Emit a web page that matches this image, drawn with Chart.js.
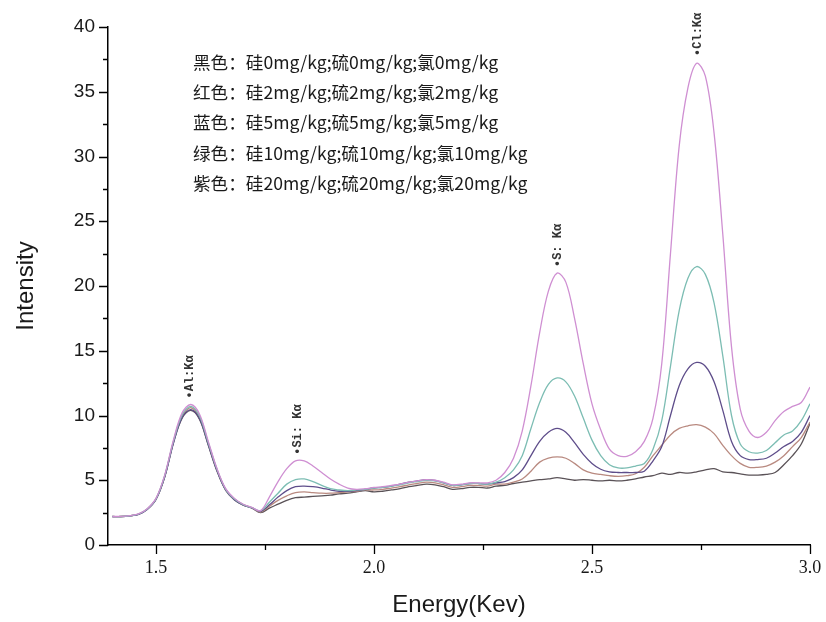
<!DOCTYPE html>
<html>
<head>
<meta charset="utf-8">
<script src="https://cdn.jsdelivr.net/npm/chart.js@4"></script>
<style>
	html, body { margin: 0; padding: 0; background: #fff; }
</style>
</head>
<body>
<canvas id="Chart1" width="826" height="622"></canvas>
<script>
// energy axis (keV)
const energy = [
	1.40, 1.42, 1.44, 1.46, 1.48, 1.50, 1.52, 1.54, 1.56, 1.58, 1.60, 1.62, 1.64, 1.66, 1.68, 1.70, 1.72,
	1.74, 1.76, 1.78, 1.80, 1.82, 1.84, 1.86, 1.88, 1.90, 1.92, 1.94, 1.96, 1.98,
	2.00, 2.02, 2.04, 2.06, 2.08, 2.10, 2.12, 2.14, 2.16, 2.18, 2.20, 2.22, 2.24, 2.26, 2.28,
	2.30, 2.32, 2.34, 2.36, 2.38, 2.40, 2.42, 2.44, 2.46, 2.48, 2.50, 2.52, 2.54, 2.56, 2.58,
	2.60, 2.62, 2.64, 2.66, 2.68, 2.70, 2.72, 2.74, 2.76, 2.78, 2.80, 2.82, 2.84, 2.86, 2.88, 2.90, 2.92, 2.94, 2.96, 2.98, 3.00
];

// intensity per sample (Si/S/Cl mg/kg)
const purple20 = [
	2.20, 2.21, 2.27, 2.40, 2.80, 3.60, 5.4, 8.1, 10.2, 10.85, 10.1, 8.0, 5.9, 4.35, 3.6, 3.15, 2.9,
	2.65, 3.7, 4.9, 5.9, 6.5, 6.5, 6.1, 5.6, 5.1, 4.7, 4.4, 4.3, 4.35,
	4.45, 4.5, 4.6, 4.7, 4.85, 4.95, 5.05, 5.0, 4.85, 4.65, 4.7, 4.8, 4.8, 4.8, 5.0,
	5.6, 6.7, 8.8, 12.3, 16.4, 19.6, 21.0, 20.3, 17.5, 14.0, 10.9, 8.9, 7.4, 6.9, 6.85,
	7.2, 8.0, 9.8, 14.0, 22.5, 30.8, 35.3, 37.2, 36.2, 31.8, 24.0, 15.3, 10.5, 8.8, 8.3, 8.7, 9.6, 10.3, 10.7, 11.0, 12.2
];
const green10 = [
	2.20, 2.20, 2.26, 2.39, 2.78, 3.56, 5.35, 8.0, 10.05, 10.7, 9.95, 7.9, 5.85, 4.3, 3.55, 3.12, 2.88,
	2.65, 3.3, 4.0, 4.7, 5.05, 5.1, 4.9, 4.6, 4.35, 4.25, 4.2, 4.25, 4.3,
	4.4, 4.45, 4.55, 4.65, 4.8, 4.9, 5.0, 4.95, 4.8, 4.6, 4.65, 4.75, 4.75, 4.7, 4.85,
	5.2, 5.8, 6.9, 9.0, 11.0, 12.4, 12.9, 12.6, 11.5, 9.8, 8.1, 6.9, 6.2, 5.95, 5.95,
	6.1, 6.3, 7.4, 9.6, 13.8, 18.1, 20.6, 21.5, 20.9, 18.7, 14.6, 10.0, 7.8, 7.2, 7.1, 7.3, 7.9, 8.5, 8.8, 9.6, 10.9
];
const blue5 = [
	2.19, 2.19, 2.25, 2.37, 2.75, 3.52, 5.25, 7.85, 9.85, 10.45, 9.75, 7.75, 5.75, 4.25, 3.5, 3.1, 2.86,
	2.6, 3.1, 3.7, 4.2, 4.5, 4.55, 4.5, 4.4, 4.25, 4.15, 4.15, 4.2, 4.3,
	4.4, 4.45, 4.55, 4.7, 4.85, 4.95, 5.05, 4.98, 4.8, 4.6, 4.65, 4.75, 4.75, 4.7, 4.8,
	4.9, 5.2, 5.8, 6.9, 8.0, 8.7, 9.0, 8.7, 7.9, 7.0, 6.3, 5.85, 5.65, 5.6, 5.6,
	5.6, 5.7, 6.5, 7.6, 10.0, 12.3, 13.6, 14.1, 13.8, 12.6, 10.4, 8.0, 6.9, 6.6, 6.6, 6.7, 7.1, 7.6, 8.0, 8.7, 10.0
];
const red2 = [
	2.20, 2.20, 2.26, 2.38, 2.77, 3.55, 5.3, 7.95, 9.95, 10.6, 9.85, 7.85, 5.8, 4.3, 3.55, 3.12, 2.87,
	2.55, 3.0, 3.45, 3.8, 4.05, 4.1, 4.05, 4.0, 4.0, 4.05, 4.1, 4.15, 4.25,
	4.25, 4.3, 4.4, 4.5, 4.65, 4.75, 4.85, 4.8, 4.65, 4.45, 4.5, 4.6, 4.6, 4.55, 4.7,
	4.7, 4.85, 5.1, 5.7, 6.4, 6.7, 6.8, 6.7, 6.3, 5.8, 5.55, 5.45, 5.35, 5.3, 5.35,
	5.5, 6.0, 6.9, 7.7, 8.5, 9.0, 9.2, 9.3, 9.1, 8.6, 7.7, 6.9, 6.3, 6.0, 6.0, 6.1, 6.4, 6.9, 7.6, 8.3, 9.5
];
const black0 = [
	2.20, 2.20, 2.25, 2.37, 2.76, 3.52, 5.25, 7.9, 9.8, 10.4, 9.7, 7.7, 5.7, 4.22, 3.48, 3.08, 2.85,
	2.5, 2.85, 3.15, 3.45, 3.65, 3.7, 3.75, 3.8, 3.85, 3.95, 4.0, 4.1, 4.2,
	4.1, 4.15, 4.25, 4.35, 4.5, 4.6, 4.7, 4.65, 4.5, 4.3, 4.35, 4.45, 4.45, 4.4, 4.55,
	4.6, 4.75, 4.85, 4.95, 5.05, 5.1, 5.2, 5.1, 5.0, 5.05, 5.0, 4.95, 5.0, 4.95, 5.0,
	5.1, 5.25, 5.35, 5.55, 5.45, 5.6, 5.55, 5.65, 5.8, 5.9, 5.65, 5.6, 5.5, 5.4, 5.4, 5.45, 5.6, 6.2, 6.9, 7.8, 9.4
];

const xTickLabels = [1.5, 2.0, 2.5, 3.0];

const legendLines = [
	'黑色：硅0mg/kg;硫0mg/kg;氯0mg/kg',
	'红色：硅2mg/kg;硫2mg/kg;氯2mg/kg',
	'蓝色：硅5mg/kg;硫5mg/kg;氯5mg/kg',
	'绿色：硅10mg/kg;硫10mg/kg;氯10mg/kg',
	'紫色：硅20mg/kg;硫20mg/kg;氯20mg/kg'
];

// peak markers
const peakLabels = ['•Al:Kα', '•Si: Kα', '•S: Kα', '•Cl:Kα'];
const peakEnergy = [1.578, 1.825, 2.421, 2.742];
const peakHeight = [10.85, 6.5, 21.0, 37.3];

const toPoints = arr => arr.map((v, i) => ({ x: energy[i], y: v }));

// tick marks + text overlays
const overlay = {
	id: 'overlay',
	afterDraw(chart) {
		const ctx = chart.ctx;
		const x = chart.scales.x;
		const y = chart.scales.y;
		ctx.save();
		ctx.strokeStyle = '#000';
		ctx.lineWidth = 1.3;
		ctx.beginPath();
		for (let v = 0; v <= 40; v += 2.5) {
			const py = Math.round(y.getPixelForValue(v)) + 0.5;
			const len = v % 5 === 0 ? 9 : 5;
			ctx.moveTo(x.left - len, py);
			ctx.lineTo(x.left, py);
		}
		for (let v = 1.5; v <= 3.0001; v += 0.25) {
			const px = Math.round(x.getPixelForValue(v)) + 0.5;
			const len = Math.abs(v * 2 - Math.round(v * 2)) < 0.01 ? 9 : 5;
			ctx.moveTo(px, y.bottom);
			ctx.lineTo(px, y.bottom + len);
		}
		ctx.stroke();

		ctx.fillStyle = '#1a1a1a';
		ctx.textBaseline = 'middle';
		ctx.font = '17.6px "Noto Sans CJK SC"';
		legendLines.forEach((t, i) => ctx.fillText(t, 193, 62 + i * 30.4));

		ctx.font = 'bold 12px "Liberation Mono"';
		ctx.fillStyle = '#333';
		peakLabels.forEach((t, i) => {
			ctx.save();
			ctx.translate(x.getPixelForValue(peakEnergy[i]), y.getPixelForValue(peakHeight[i]) - 6);
			ctx.rotate(-Math.PI / 2);
			ctx.textAlign = 'left';
			ctx.fillText(t, 0, 0);
			ctx.restore();
		});
		ctx.restore();
	}
};

const series = [
	{ label: '紫色', data: purple20, color: '#cf8fd2' },
	{ label: '绿色', data: green10, color: '#7cbdb3' },
	{ label: '蓝色', data: blue5, color: '#5e4d8a' },
	{ label: '红色', data: red2, color: '#b98a80' },
	{ label: '黑色', data: black0, color: '#5a5257' }
];

const ctx = document.getElementById('Chart1');
const myChart = new Chart(ctx, {
	type: 'line',
	data: {
		datasets: series.map(s => ({
			label: s.label,
			data: toPoints(s.data),
			borderColor: s.color,
			borderWidth: 1.3,
			pointRadius: 0,
			fill: false,
			tension: 0.35
		}))
	},
	options: {
		responsive: false,
		animation: false,
		layout: { padding: { left: 0, right: 16, top: 27, bottom: 0 } },
		plugins: {
			legend: { display: false },
			tooltip: { enabled: false }
		},
		scales: {
			x: {
				type: 'linear',
				min: 1.39,
				max: 3.0,
				afterBuildTicks: scale => { scale.ticks = xTickLabels.map(v => ({ value: v })); },
				afterFit: scale => { scale.height = 77; },
				grid: { display: false },
				border: { display: true, color: '#000', width: 1.5 },
				ticks: {
					color: '#1a1a1a',
					padding: 4,
					maxRotation: 0,
					font: { family: '"Liberation Serif"', size: 18 },
					callback: v => v.toFixed(1)
				},
				title: {
					display: true,
					text: 'Energy(Kev)',
					color: '#1a1a1a',
					font: { family: '"Liberation Sans"', size: 24 },
					padding: { top: 0, bottom: 2 }
				}
			},
			y: {
				min: 0,
				max: 40,
				afterFit: scale => { scale.width = 108; },
				grid: { display: false },
				border: { display: true, color: '#000', width: 1.5 },
				ticks: {
					stepSize: 5,
					color: '#1a1a1a',
					padding: 5,
					font: { family: '"Liberation Sans"', size: 19 }
				},
				title: {
					display: true,
					text: 'Intensity',
					color: '#1a1a1a',
					font: { family: '"Liberation Sans"', size: 24 },
					padding: { top: 12, bottom: 0 }
				}
			}
		}
	},
	plugins: [overlay]
});
</script>
</body>
</html>
